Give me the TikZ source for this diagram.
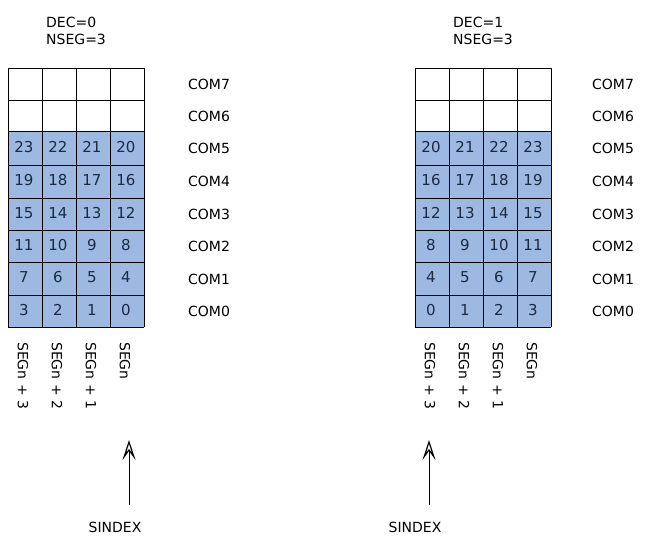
\documentclass[tikz,border=0pt]{standalone}
\usepackage{fontspec}
\setmainfont{DejaVu Sans}
\usetikzlibrary{arrows.meta}
\definecolor{cellblue}{HTML}{9DB9E2}
\definecolor{numtext}{HTML}{1A2A44}
\begin{document}
\begin{tikzpicture}[x=1pt,y=-1pt,font=\fontsize{14}{17}\selectfont,
  lbl/.style={inner sep=0pt,anchor=west},
  num/.style={inner sep=0pt,text=numtext,font=\fontsize{15}{17}\selectfont},
  seg/.style={inner sep=0pt,rotate=-90,anchor=west},
  ptr/.style={-{Stealth[open,length=20pt,width=13pt,inset=9pt,line width=1.2pt]},line width=1pt}]
\useasboundingbox (0,0) rectangle (651,546);
\foreach \ox/\dec/\side in {8/0/L,415/1/R}{
  \fill[cellblue] (\ox,131) rectangle ++(136,196);
  \foreach \y in {68,100,131,165,198,230,262,295,327}
    \draw[line width=0.9pt] (\ox,\y) -- ++(136,0);
  \foreach \i in {0,1,2,3,4}
    \draw[line width=0.9pt] (\ox+34*\i,68) -- (\ox+34*\i,327);
  \node[lbl,align=left] (dec\side) at (\ox+38,31) {DEC=\dec\\NSEG=3};
}
\foreach \r/\y in {0/310,1/277,2/245,3/213,4/180,5/147}{
  \foreach \c in {0,1,2,3}{
    \pgfmathtruncatemacro{\nl}{4*\r+3-\c}
    \pgfmathtruncatemacro{\nr}{4*\r+\c}
    \node[num] (nl\r\c) at (8+16+34*\c,\y) {\nl};
    \node[num] (nr\r\c) at (415+16+34*\c,\y) {\nr};
  }}
\foreach \k/\y in {7/84,6/116,5/148,4/181,3/214,2/246,1/279,0/311}{
  \node[lbl] (cl\k) at (188,\y) {COM\k};
  \node[lbl] (cr\k) at (592,\y) {COM\k};
}
\foreach \c/\t in {0/SEGn + 3,1/SEGn + 2,2/SEGn + 1,3/SEGn}{
  \node[seg] (sl\c) at (8+15+34*\c,342) {\t};
  \node[seg] (sr\c) at (415+15+34*\c,342) {\t};
}
\node[inner sep=0pt] (sinL) at (115,527) {SINDEX};
\node[inner sep=0pt] (sinR) at (415,527) {SINDEX};
\coordinate (aL) at (129,440); \coordinate (aR) at (429,440);
\draw[ptr] (129,505) -- (aL);
\draw[ptr] (429,505) -- (aR);
\end{tikzpicture}
\end{document}
